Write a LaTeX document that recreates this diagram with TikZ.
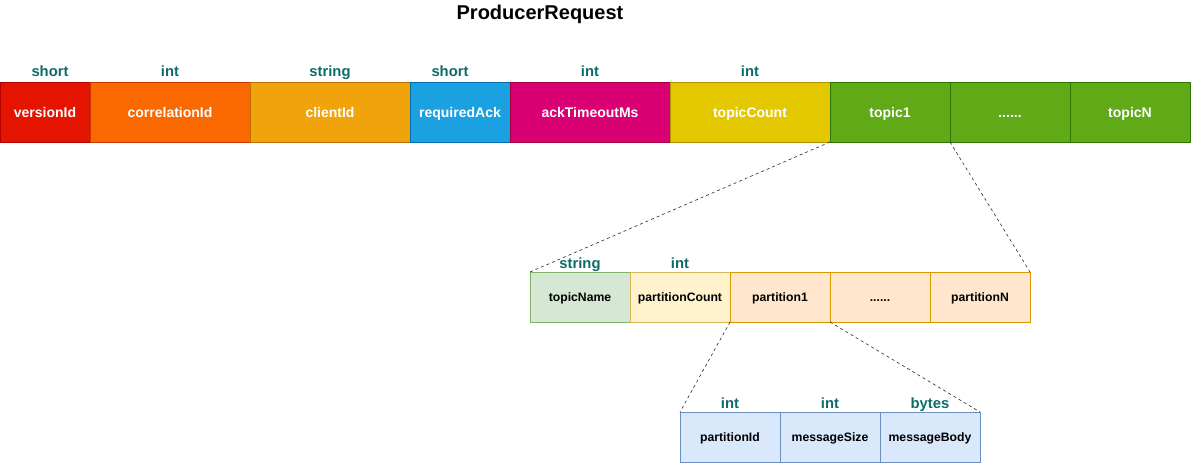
\documentclass[tikz,border=0pt]{standalone}
\usepackage{fontspec}
\setmainfont{Liberation Sans}
\begin{document}
\begin{tikzpicture}[x=1pt,y=-1pt,
  cell/.style={draw,line width=0.9pt,minimum height=60pt,inner sep=0pt,outer sep=0pt,text height=10pt,text depth=0pt,font=\bfseries\fontsize{14}{16}\selectfont,text=white},
  subcell/.style={draw,line width=0.9pt,minimum height=50pt,inner sep=0pt,outer sep=0pt,text height=8.8pt,text depth=0pt,font=\bfseries\fontsize{12.2}{14}\selectfont,text=black},
  typ/.style={font=\bfseries\fontsize{14.8}{17}\selectfont,text=typecol,inner sep=0pt,text height=10.6pt,text depth=0pt},
  zoomline/.style={dashed,line width=0.6pt,draw=black!85}]
\definecolor{typecol}{HTML}{0D6B6B}
\definecolor{f1}{HTML}{E51400}\definecolor{s1}{HTML}{B20000}
\definecolor{f2}{HTML}{FA6800}\definecolor{s2}{HTML}{C73500}
\definecolor{f3}{HTML}{F0A30A}\definecolor{s3}{HTML}{BD7000}
\definecolor{f4}{HTML}{1BA1E2}\definecolor{s4}{HTML}{006EAF}
\definecolor{f5}{HTML}{D80073}\definecolor{s5}{HTML}{A50040}
\definecolor{f6}{HTML}{E3C800}\definecolor{s6}{HTML}{B09500}
\definecolor{f7}{HTML}{60A917}\definecolor{s7}{HTML}{2D7600}
\definecolor{g1}{HTML}{D5E8D4}\definecolor{h1}{HTML}{82B366}
\definecolor{g2}{HTML}{FFF2CC}\definecolor{h2}{HTML}{D6B656}
\definecolor{g3}{HTML}{FFE6CC}\definecolor{h3}{HTML}{D79B00}
\definecolor{g4}{HTML}{DAE8FC}\definecolor{h4}{HTML}{6C8EBF}
\useasboundingbox (0,0) rectangle (1191,463);
\node[font=\bfseries\fontsize{20}{24}\selectfont] (title) at (540,14) {ProducerRequest};
% top row
\node[cell,fill=f1,draw=s1,minimum width=90pt] (v) at (45,112) {versionId};
\node[cell,fill=f2,draw=s2,minimum width=160pt] (c) at (170,112) {correlationId};
\node[cell,fill=f3,draw=s3,minimum width=160pt] (cl) at (330,112) {clientId};
\node[cell,fill=f4,draw=s4,minimum width=100pt] (r) at (460,112) {requiredAck};
\node[cell,fill=f5,draw=s5,minimum width=160pt] (a) at (590,112) {ackTimeoutMs};
\node[cell,fill=f6,draw=s6,minimum width=160pt] (tc) at (750,112) {topicCount};
\node[cell,fill=f7,draw=s7,minimum width=120pt] (t1) at (890,112) {topic1};
\node[cell,fill=f7,draw=s7,minimum width=120pt] (td) at (1010,112) {......};
\node[cell,fill=f7,draw=s7,minimum width=120pt] (tn) at (1130,112) {topicN};
\node[typ] (ty1) at (50,71) {short};
\node[typ] (ty2) at (170,71) {int};
\node[typ] (ty3) at (330,71) {string};
\node[typ] (ty4) at (450,71) {short};
\node[typ] (ty5) at (590,71) {int};
\node[typ] (ty6) at (750,71) {int};
% second row
\node[subcell,fill=g1,draw=h1,minimum width=100pt] (tname) at (580,297) {topicName};
\node[subcell,fill=g2,draw=h2,minimum width=100pt] (pc) at (680,297) {partitionCount};
\node[subcell,fill=g3,draw=h3,minimum width=100pt] (p1) at (780,297) {partition1};
\node[subcell,fill=g3,draw=h3,minimum width=100pt] (pd) at (880,297) {......};
\node[subcell,fill=g3,draw=h3,minimum width=100pt] (pn) at (980,297) {partitionN};
\node[typ] (ty7) at (580,263) {string};
\node[typ] (ty8) at (680,263) {int};
% third row
\node[subcell,fill=g4,draw=h4,minimum width=100pt] (pid) at (730,437) {partitionId};
\node[subcell,fill=g4,draw=h4,minimum width=100pt] (ms) at (830,437) {messageSize};
\node[subcell,fill=g4,draw=h4,minimum width=100pt] (mb) at (930,437) {messageBody};
\node[typ] (ty9) at (730,403) {int};
\node[typ] (ty10) at (830,403) {int};
\node[typ] (ty11) at (930,403) {bytes};
% zoom lines
\draw[zoomline] (t1.south west) -- (tname.north west);
\draw[zoomline] (t1.south east) -- (pn.north east);
\draw[zoomline] (p1.south west) -- (pid.north west);
\draw[zoomline] (p1.south east) -- (mb.north east);
\end{tikzpicture}
\end{document}
